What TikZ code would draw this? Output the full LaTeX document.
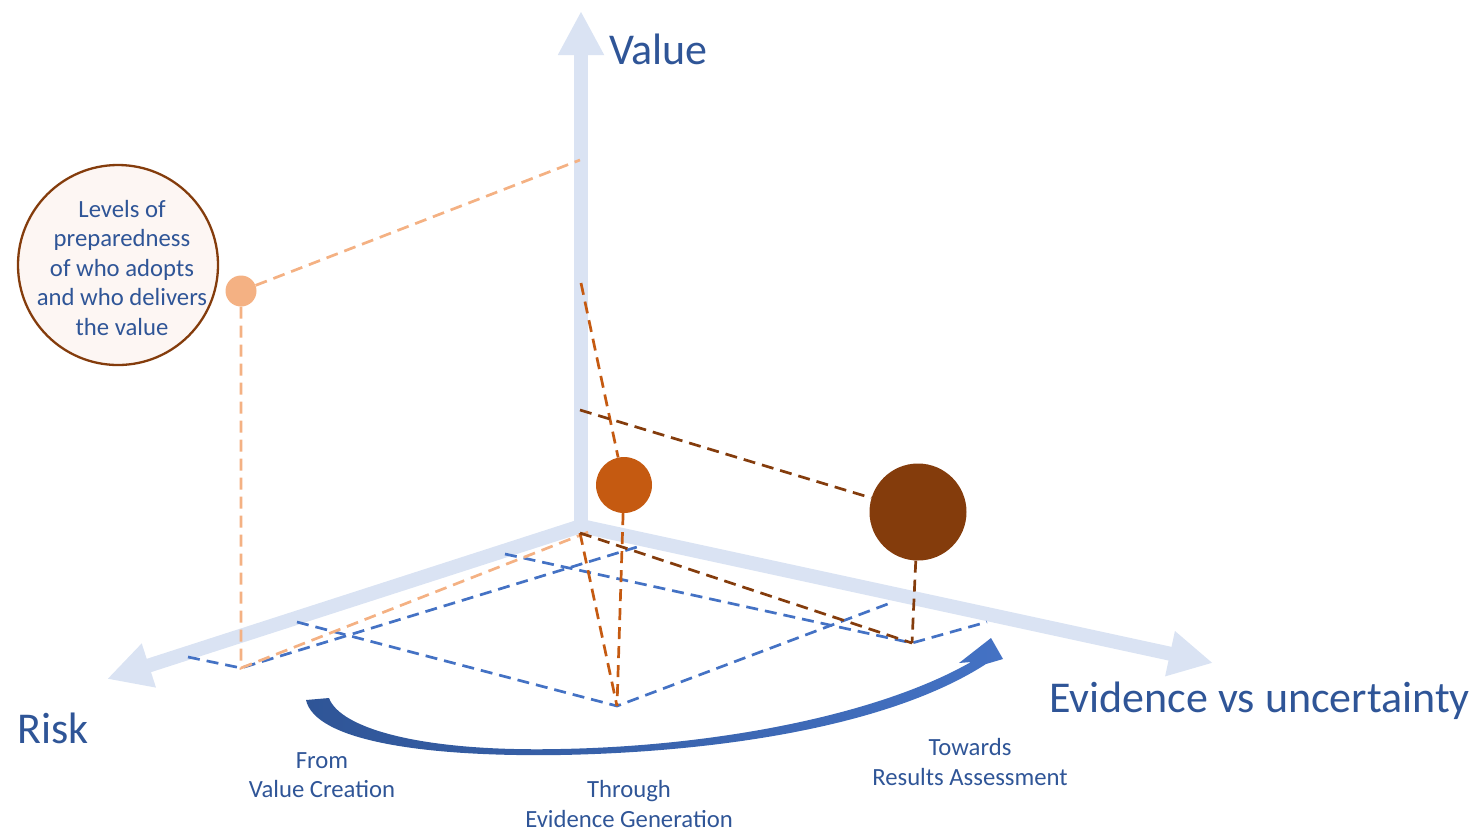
\documentclass[tikz,border=0pt]{standalone}
\usepackage{fontspec}
\setmainfont{Carlito}
\usetikzlibrary{arrows.meta}
\definecolor{axisblue}{HTML}{DAE3F3}
\definecolor{txtblue}{HTML}{2F5597}
\definecolor{gridblue}{HTML}{4472C4}
\definecolor{peach}{HTML}{F4B183}
\definecolor{rust}{HTML}{C55A11}
\definecolor{darkrust}{HTML}{843C0C}
\definecolor{pinkfill}{HTML}{FDF6F3}

\begin{document}
\begin{tikzpicture}[x=1pt, y=-1pt,
    axis/.style={axisblue, line width=14pt, -{Triangle[length=44pt, width=43pt]}},
    dashline/.style={line width=2.7pt, dash pattern=on 12pt off 7pt},
    bigtxt/.style={text=txtblue, font=\fontsize{44}{50}\selectfont, inner sep=0pt},
    smalltxt/.style={text=txtblue, font=\fontsize{24.7}{29.5}\selectfont, align=center, inner sep=0pt},
    dot/.style={circle, inner sep=0pt}]
    \useasboundingbox (0,0) rectangle (1478,831);

    % Оси
    \coordinate (O) at (581,526);
    \coordinate (vtip) at (581,11);
    \coordinate (rtip) at (107,679);
    \coordinate (etip) at (1213,663);
    \draw[axis] (O) -- (vtip);
    \draw[axis] (O) -- (rtip);
    \draw[axis] (O) -- (etip);

    % Точки на осях и на плоскости
    \coordinate (pv) at (580,160);
    \coordinate (mv) at (581,283);
    \coordinate (bv) at (580,410);
    \coordinate (o2) at (580,533);
    \coordinate (po) at (591,531);
    \coordinate (pg) at (241,668);
    \coordinate (mg) at (617,706);
    \coordinate (bg) at (912,643);

    % Шары
    \node[dot, fill=peach, minimum size=31pt] (pdot) at (241,291) {};
    \node[dot, fill=rust, minimum size=56pt] (mdot) at (624,485) {};
    \node[dot, fill=darkrust, minimum size=97pt] (bdot) at (918,512) {};

    % Плоскость (синие пунктиры)
    \draw[dashline, gridblue] (188,657) -- (pg) -- (637,547);
    \draw[dashline, gridblue] (297,622) -- (mg) -- (893,602);
    \draw[dashline, gridblue] (505,554) -- (bg) -- (987,622);

    % Проекции
    \draw[dashline, peach] (pdot) -- (pv);
    \draw[dashline, peach] (pdot) -- (pg) -- (po);
    \draw[dashline, rust] (mv) -- (mdot);
    \draw[dashline, rust] (mdot) -- (mg);
    \draw[dashline, rust] (o2) -- (mg);
    \draw[dashline, darkrust] (bv) -- (bdot);
    \draw[dashline, darkrust] (bdot) -- (bg);
    \draw[dashline, darkrust] (o2) -- (bg);

    % Кривая стрелка
    \shade[left color=txtblue, right color=gridblue]
        (306,700) .. controls (315,740) and (420,757) .. (560,755)
        .. controls (720,752) and (890,726) .. (986,664)
        -- (1003,659) -- (991,638) -- (959,663) -- (971,662)
        .. controls (880,714) and (720,746) .. (560,749)
        .. controls (420,752) and (340,728) .. (329,698) -- cycle;

    % Подписи
    \node[bigtxt, anchor=base west] (value) at (609,64) {Value};
    \node[bigtxt, anchor=base west] (evid) at (1049,712) {Evidence vs uncertainty};
    \node[bigtxt, anchor=base west] (risk) at (17,743) {Risk};
    \node[circle, draw=darkrust, line width=2.3pt, fill=pinkfill, minimum size=200pt,
        inner sep=0pt] (levels) at (118,265) {};
    \node[smalltxt] (levelstxt) at (122,268) {Levels of\\preparedness\\of who adopts\\and who delivers\\the value};
    \node[smalltxt] (from) at (322,775) {From\\Value Creation};
    \node[smalltxt] (through) at (629,804) {Through\\Evidence Generation};
    \node[smalltxt] (towards) at (970,762) {Towards\\Results Assessment};
\end{tikzpicture}
\end{document}
